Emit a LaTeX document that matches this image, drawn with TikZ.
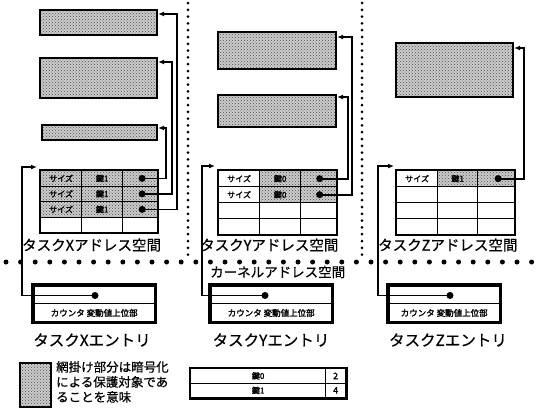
\documentclass[tikz,border=0pt]{standalone}
\usepackage{fontspec}
\newfontfamily\jp{Noto Sans CJK JP}[FakeBold=0.6]
\newfontfamily\jpb{Noto Sans CJK JP}[FakeBold=2]
\usetikzlibrary{arrows.meta,patterns}
\tikzset{
  shade/.style={preaction={fill=gray!40}, pattern=crosshatch dots, pattern color=black!70},
  shbox/.style={draw, line width=2.2pt, shade, inner sep=0pt, minimum width=117pt},
  cell/.style={draw, line width=1.3pt, inner sep=0pt, anchor=north west, font=\fontsize{8}{8}\jpb},
  shcell/.style={cell, shade},
  dotn/.style={circle, fill=black, inner sep=0pt, minimum size=7pt},
  conn/.style={line width=1.8pt},
  arr/.style={conn, -{Latex[length=6pt,width=5pt]}},
  entrypart/.style={inner sep=0pt, minimum height=18.5pt, anchor=north west, font=\fontsize{8.5}{9}\jpb},
  lbl/.style={anchor=west, inner sep=0pt, font=\fontsize{14.5}{16}\jp},
  elbl/.style={inner sep=0pt, font=\fontsize{15.5}{16}\jp},
}
\begin{document}
\begin{tikzpicture}[x=1pt,y=-1pt]
\useasboundingbox (0,0) rectangle (546,408);
% dotted separators
\draw[line width=5pt, line cap=round, dash pattern=on 0pt off 14.6pt] (6,262) -- (546,262);
\draw[line width=3pt, line cap=round, dash pattern=on 0pt off 6.8pt] (188,3) -- (188,256);
\draw[line width=3pt, line cap=round, dash pattern=on 0pt off 6.8pt] (362,3) -- (362,256);

% ---------- Task X ----------
\node[shbox, minimum height=25pt] (bx1) at (98.5,22.5) {};
\node[shbox, minimum height=40pt] (bx2) at (98.5,78) {};
\node[shbox, minimum height=15pt, minimum width=115pt] (bx3) at (99.5,132.5) {};
\foreach \r in {1,2,3}{
  \node[shcell, minimum width=41pt, minimum height=15.5pt] (tX-\r-1) at (40,{170+15.5*(\r-1)}) {サイズ};
  \node[shcell, minimum width=41pt, minimum height=15.5pt] (tX-\r-2) at (81,{170+15.5*(\r-1)}) {鍵1};
  \node[shcell, minimum width=35pt, minimum height=15.5pt] (tX-\r-3) at (122,{170+15.5*(\r-1)}) {};
  \node[dotn] (dX\r) at ([xshift=2pt]tX-\r-3.center) {};
}
\node[cell, minimum width=41pt, minimum height=15.5pt] (tX-4-1) at (40,216.5) {};
\node[cell, minimum width=41pt, minimum height=15.5pt] (tX-4-2) at (81,216.5) {};
\node[cell, minimum width=35pt, minimum height=15.5pt] (tX-4-3) at (122,216.5) {};
\draw[line width=2.2pt] (tX-1-1.north west) rectangle (tX-4-3.south east);
\draw[arr] (dX1.center) -- ++(24,0) |- ([yshift=4.5pt]bx3.east);
\draw[arr] (dX2.center) -- ++(30,0) |- ([yshift=16pt]bx2.east);
\draw[arr] (dX3.center) -- ++(35,0) |- ([yshift=8.5pt]bx1.east);
\node[lbl] (lX) at (22,245) {タスクXアドレス空間};

% ---------- Task Y ----------
\node[shbox, minimum height=37pt, minimum width=118pt] (by1) at (277,50.5) {};
\node[shbox, minimum height=32pt, minimum width=118pt] (by2) at (277,111) {};
\foreach \r in {1,2}{
  \node[cell, minimum width=41pt, minimum height=16pt] (tY-\r-1) at (218,{170+16*(\r-1)}) {サイズ};
  \node[shcell, minimum width=41pt, minimum height=16pt] (tY-\r-2) at (259,{170+16*(\r-1)}) {鍵0};
  \node[shcell, minimum width=36pt, minimum height=16pt] (tY-\r-3) at (300,{170+16*(\r-1)}) {};
  \node[dotn] (dY\r) at ([xshift=1pt]tY-\r-3.center) {};
}
\foreach \r in {3,4}{
  \node[cell, minimum width=41pt, minimum height=16pt] (tY-\r-1) at (218,{170+16*(\r-1)}) {};
  \node[cell, minimum width=41pt, minimum height=16pt] (tY-\r-2) at (259,{170+16*(\r-1)}) {};
  \node[cell, minimum width=36pt, minimum height=16pt] (tY-\r-3) at (300,{170+16*(\r-1)}) {};
}
\draw[line width=2.2pt] (tY-1-1.north west) rectangle (tY-4-3.south east);
\draw[arr] (dY1.center) -- ++(28,0) |- ([yshift=14pt]by2.east);
\draw[arr] (dY2.center) -- ++(32,0) |- ([yshift=13.5pt]by1.east);
\node[lbl] (lY) at (200,245) {タスクYアドレス空間};
\node[lbl, font=\fontsize{13.5}{15}\jp] (lK) at (210,272) {カーネルアドレス空間};

% ---------- Task Z ----------
\node[shbox, minimum height=54pt] (bz1) at (454.5,70) {};
\foreach \c/\x/\w in {1/396/41, 2/437/40, 3/477/37}{
  \foreach \r in {2,3,4}{
    \node[cell, minimum width=\w pt, minimum height=16pt] (tZ-\r-\c) at (\x,{170+16*(\r-1)}) {};
  }
}
\node[cell, minimum width=41pt, minimum height=16pt] (tZ-1-1) at (396,170) {サイズ};
\node[shcell, minimum width=40pt, minimum height=16pt] (tZ-1-2) at (437,170) {鍵1};
\node[shcell, minimum width=37pt, minimum height=16pt] (tZ-1-3) at (477,170) {};
\node[dotn] (dZ1) at ([xshift=2pt]tZ-1-3.center) {};
\draw[line width=2.2pt] (tZ-1-1.north west) rectangle (tZ-4-3.south east);
\draw[arr] (dZ1.center) -- ++(26,0) |- ([yshift=22pt]bz1.east);
\node[lbl] (lZ) at (378,245) {タスクZアドレス空間};

% ---------- Entries ----------
\foreach \n/\x/\w/\dx in {X/33/122/62, Y/210/122/55, Z/388/112/62}{
  \node[entrypart, minimum width=\w pt] (e\n a) at (\x,285) {};
  \node[entrypart, minimum width=\w pt] (e\n b) at (\x,303.5) {カウンタ 変動値上位部};
  \draw[line width=1.5pt] (e\n b.north west) -- (e\n b.north east);
  \draw[line width=3.4pt] (e\n a.north west) rectangle (e\n b.south east);
  \node[dotn] (e\n d) at ([xshift=\dx pt, yshift=-1pt]e\n a.west) {};
}
\coordinate (cX) at (22,167);
\coordinate (cY) at (202,166);
\coordinate (cZ) at (378,166);
\draw[arr] (eXd.center) -| (cX) -- ([xshift=-3pt,yshift=3pt]tX-1-1.north west);
\draw[arr] (eYd.center) -| (cY) -- ([xshift=-3pt,yshift=4pt]tY-1-1.north west);
\draw[arr] (eZd.center) -| (cZ) -- ([xshift=-2pt,yshift=4pt]tZ-1-1.north west);
\node[elbl] (nX) at (92,340) {タスクXエントリ};
\node[elbl] (nY) at (271,340) {タスクYエントリ};
\node[elbl] (nZ) at (448,340) {タスクZエントリ};

% ---------- Legend ----------
\node[draw, line width=2pt, shade, minimum width=31pt, minimum height=44pt, inner sep=0pt] (lg) at (35.5,385) {};
\node[anchor=north west, align=left, inner sep=0pt, font=\fontsize{12.5}{15}\jp] (lgt) at (56,361) {網掛け部分は暗号化\\による保護対象であ\\ることを意味};

% ---------- Key table ----------
\node[cell, minimum width=135pt, minimum height=14.5pt] (k1a) at (190,368) {鍵0};
\node[cell, minimum width=20pt, minimum height=14.5pt, font=\fontsize{9}{10}\jpb] (k1b) at (325,368) {2};
\node[cell, minimum width=135pt, minimum height=14.5pt] (k2a) at (190,382.5) {鍵1};
\node[cell, minimum width=20pt, minimum height=14.5pt, font=\fontsize{9}{10}\jpb] (k2b) at (325,382.5) {4};
\draw[line width=2.8pt] (k1a.north west) rectangle (k2b.south east);
\end{tikzpicture}
\end{document}
